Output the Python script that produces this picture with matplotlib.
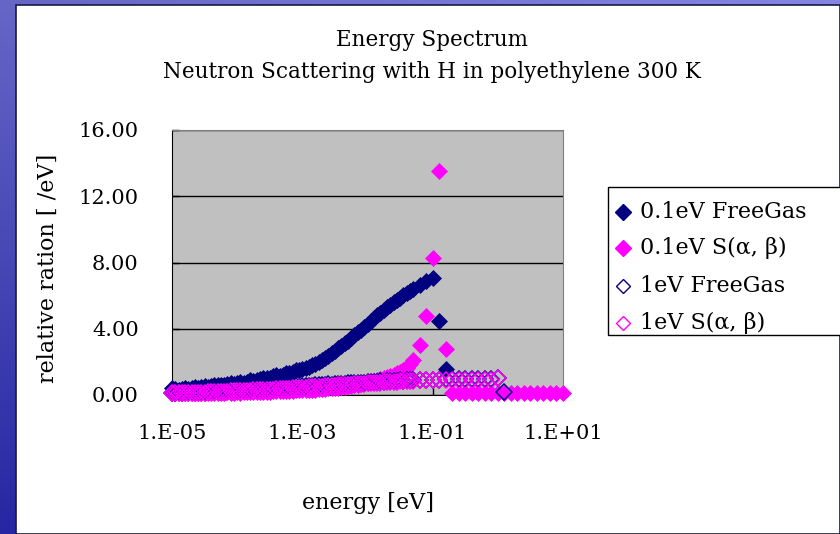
import numpy as np
import matplotlib
matplotlib.use("Agg")
import matplotlib.pyplot as plt
from matplotlib.lines import Line2D
from matplotlib.patches import Rectangle

# ---------------- data ----------------
# energies [eV]: 0.05-decade steps up to 5e-2, then 0.1-decade steps to 10 eV
energy = [
    1.00e-05, 1.12e-05, 1.26e-05, 1.41e-05, 1.58e-05, 1.78e-05, 2.00e-05, 2.24e-05, 2.51e-05, 2.82e-05,
    3.16e-05, 3.55e-05, 3.98e-05, 4.47e-05, 5.01e-05, 5.62e-05, 6.31e-05, 7.08e-05, 7.94e-05, 8.91e-05,
    1.00e-04, 1.12e-04, 1.26e-04, 1.41e-04, 1.58e-04, 1.78e-04, 2.00e-04, 2.24e-04, 2.51e-04, 2.82e-04,
    3.16e-04, 3.55e-04, 3.98e-04, 4.47e-04, 5.01e-04, 5.62e-04, 6.31e-04, 7.08e-04, 7.94e-04, 8.91e-04,
    1.00e-03, 1.12e-03, 1.26e-03, 1.41e-03, 1.58e-03, 1.78e-03, 2.00e-03, 2.24e-03, 2.51e-03, 2.82e-03,
    3.16e-03, 3.55e-03, 3.98e-03, 4.47e-03, 5.01e-03, 5.62e-03, 6.31e-03, 7.08e-03, 7.94e-03, 8.91e-03,
    1.00e-02, 1.12e-02, 1.26e-02, 1.41e-02, 1.58e-02, 1.78e-02, 2.00e-02, 2.24e-02, 2.51e-02, 2.82e-02,
    3.16e-02, 3.55e-02, 3.98e-02, 4.47e-02, 5.01e-02,
    6.31e-02, 7.94e-02, 1.00e-01, 1.26e-01, 1.58e-01, 2.00e-01, 2.51e-01, 3.16e-01, 3.98e-01, 5.01e-01,
    6.31e-01, 7.94e-01, 1.00e+00, 1.26e+00, 1.58e+00, 2.00e+00, 2.51e+00, 3.16e+00, 3.98e+00, 5.01e+00,
    6.31e+00, 7.94e+00, 1.00e+01,
]

free_gas_01 = [
    0.45, 0.38, 0.32, 0.35, 0.40, 0.38, 0.42, 0.48, 0.45, 0.50,
    0.55, 0.50, 0.52, 0.58, 0.62, 0.58, 0.60, 0.66, 0.70, 0.68,
    0.72, 0.78, 0.75, 0.80, 0.88, 0.85, 0.90, 0.98, 1.02, 1.00,
    1.05, 1.12, 1.18, 1.15, 1.22, 1.30, 1.35, 1.40, 1.48, 1.52,
    1.58, 1.65, 1.72, 1.82, 1.90, 2.00, 2.12, 2.25, 2.38, 2.52,
    2.68, 2.82, 2.98, 3.12, 3.28, 3.45, 3.62, 3.78, 3.95, 4.12,
    4.30, 4.48, 4.65, 4.82, 4.98, 5.15, 5.30, 5.45, 5.60, 5.75,
    5.88, 6.02, 6.15, 6.28, 6.40,
    6.65, 6.88, 7.05, 4.45, 1.55,
]

sab_01 = [
    0.15, 0.12, 0.15, 0.12, 0.15, 0.15, 0.12, 0.15, 0.15, 0.12,
    0.15, 0.15, 0.12, 0.15, 0.15, 0.15, 0.15, 0.18, 0.15, 0.15,
    0.18, 0.15, 0.18, 0.18, 0.18, 0.20, 0.18, 0.20, 0.20, 0.20,
    0.20, 0.22, 0.22, 0.22, 0.22, 0.25, 0.25, 0.25, 0.28, 0.28,
    0.28, 0.30, 0.30, 0.32, 0.32, 0.35, 0.35, 0.38, 0.40, 0.40,
    0.42, 0.45, 0.48, 0.50, 0.52, 0.55, 0.58, 0.62, 0.65, 0.70,
    0.75, 0.80, 0.85, 0.90, 0.95, 1.00, 1.08, 1.15, 1.22, 1.30,
    1.40, 1.50, 1.65, 1.85, 2.10,
    3.00, 4.80, 8.30, 13.50, 2.80, 0.10, 0.10, 0.10, 0.10, 0.10,
    0.10, 0.10, 0.10, 0.10, 0.10, 0.10, 0.10, 0.10, 0.10, 0.10,
    0.10, 0.10, 0.10,
]

free_gas_1 = [
    0.15, 0.15, 0.18, 0.15, 0.18, 0.20, 0.18, 0.20, 0.22, 0.20,
    0.22, 0.25, 0.22, 0.25, 0.28, 0.25, 0.28, 0.30, 0.28, 0.30,
    0.32, 0.30, 0.33, 0.35, 0.33, 0.36, 0.38, 0.36, 0.40, 0.42,
    0.40, 0.43, 0.45, 0.43, 0.46, 0.48, 0.46, 0.50, 0.52, 0.50,
    0.53, 0.55, 0.53, 0.56, 0.58, 0.60, 0.58, 0.62, 0.64, 0.62,
    0.65, 0.67, 0.65, 0.68, 0.70, 0.72, 0.70, 0.73, 0.75, 0.74,
    0.76, 0.78, 0.77, 0.80, 0.82, 0.80, 0.83, 0.85, 0.84, 0.86,
    0.88, 0.87, 0.89, 0.90, 0.90,
    0.92, 0.92, 0.93, 0.93, 0.94, 0.94, 0.95, 0.95, 0.95, 0.95,
    0.96, 0.96, 1.00, 0.20,
]

sab_1 = [
    0.10, 0.10, 0.12, 0.10, 0.12, 0.12, 0.14, 0.12, 0.14, 0.15,
    0.15, 0.17, 0.16, 0.18, 0.18, 0.20, 0.19, 0.21, 0.22, 0.22,
    0.24, 0.23, 0.25, 0.26, 0.26, 0.28, 0.28, 0.30, 0.30, 0.32,
    0.33, 0.33, 0.35, 0.36, 0.36, 0.38, 0.39, 0.40, 0.41, 0.42,
    0.44, 0.45, 0.46, 0.47, 0.48, 0.50, 0.51, 0.52, 0.54, 0.55,
    0.56, 0.58, 0.59, 0.60, 0.62, 0.63, 0.64, 0.66, 0.67, 0.68,
    0.70, 0.71, 0.72, 0.74, 0.75, 0.76, 0.78, 0.79, 0.80, 0.81,
    0.82, 0.83, 0.84, 0.85, 0.86,
    0.88, 0.88, 0.89, 0.90, 0.90, 0.91, 0.92, 0.92, 0.92, 0.93,
    0.93, 0.93, 1.00,
]

series_labels = ["0.1eV FreeGas", "0.1eV S(α, β)", "1eV FreeGas", "1eV S(α, β)"]
y_ticks = [0, 4, 8, 12, 16]
y_tick_labels = ["0.00", "4.00", "8.00", "12.00", "16.00"]
x_ticks = [1e-5, 1e-3, 1e-1, 1e1]
x_tick_labels = ["1.E-05", "1.E-03", "1.E-01", "1.E+01"]

# ---------------- style ----------------
FONT = "DejaVu Serif"
NAVY = "#000080"
MAGENTA = "#FF00FF"

W, H = 840, 534
fig = plt.figure(figsize=(W / 100, H / 100), dpi=100)

# slide-style background: blue gradient frame + white panel
bg = fig.add_axes([0, 0, 1, 1], zorder=-10)
grad_v = np.linspace(0, 1, 256)[:, None]
grad_h = np.linspace(0, 1, 256)[None, :]
top = np.array([0.40, 0.40, 0.78])
bot = np.array([0.15, 0.15, 0.64])
img = top[None, None, :] * (1 - grad_v[..., None]) + bot[None, None, :] * grad_v[..., None]
img = img + 0.12 * (grad_h[..., None] * (1 - grad_v[..., None]))
bg.imshow(np.clip(img, 0, 1), aspect="auto", extent=[0, 1, 0, 1], origin="upper")
bg.set_xlim(0, 1)
bg.set_ylim(0, 1)
bg.axis("off")
bg.add_patch(Rectangle((16 / W, 0), 1 - 16 / W, 1 - 5 / H, facecolor="white",
                       edgecolor="#1a1a40", linewidth=1.2))

# main axes
ax = fig.add_axes([172 / W, 139 / H, (563 - 172) / W, (395 - 130) / H])
ax.set_facecolor("#C0C0C0")
ax.set_xscale("log")
ax.set_xlim(1e-5, 1e1)
ax.set_ylim(0, 16)

ax.set_yticks(y_ticks)
ax.set_yticklabels(y_tick_labels)
ax.set_xticks(x_ticks)
ax.set_xticklabels(x_tick_labels)
ax.xaxis.set_minor_locator(matplotlib.ticker.NullLocator())
ax.tick_params(axis="both", direction="in", length=5, width=1, color="black",
               labelsize=15)
ax.tick_params(axis="x", pad=21)
ax.tick_params(axis="y", pad=24)
for lab in ax.get_xticklabels() + ax.get_yticklabels():
    lab.set_fontfamily(FONT)
ax.yaxis.grid(True, color="black", linewidth=1)
ax.set_axisbelow(True)
ax.spines["left"].set_color("black")
ax.spines["bottom"].set_color("black")
ax.spines["top"].set_color("#808080")
ax.spines["right"].set_color("#808080")

ms = 8.6
ax.plot(energy[:len(free_gas_01)], free_gas_01, linestyle="none", marker="D", ms=ms,
        mfc=NAVY, mec=NAVY, mew=0.5, clip_on=False, zorder=3)
ax.plot(energy[:len(sab_01)], sab_01, linestyle="none", marker="D", ms=ms,
        mfc=MAGENTA, mec=MAGENTA, mew=0.5, clip_on=False, zorder=4)
ax.plot(energy[:len(free_gas_1)], free_gas_1, linestyle="none", marker="D", ms=ms * 0.9,
        mfc="none", mec=NAVY, mew=1.1, clip_on=False, zorder=5)
ax.plot(energy[:len(sab_1)], sab_1, linestyle="none", marker="D", ms=ms * 0.9,
        mfc="none", mec=MAGENTA, mew=1.1, clip_on=False, zorder=6)

# titles / labels
fig.text(432 / W, 1 - 40 / H, "Energy Spectrum", ha="center", va="center",
         fontsize=15.5, family=FONT)
fig.text(432 / W, 1 - 72 / H, "Neutron Scattering with H in polyethylene 300 K",
         ha="center", va="center", fontsize=15.5, family=FONT)
fig.text(368 / W, 1 - 503 / H, "energy [eV]", ha="center", va="center",
         fontsize=16, family=FONT)
fig.text(48 / W, 1 - 268 / H, "relative ration [ /eV]", ha="center", va="center",
         rotation=90, fontsize=16, family=FONT)

# legend (manual box)
fig.add_artist(Rectangle((608 / W, 1 - 335 / H), (845 - 608) / W, (335 - 187) / H,
                         transform=fig.transFigure, facecolor="white",
                         edgecolor="black", linewidth=1.0, clip_on=False))
rows = [212, 248, 286, 323]
styles = [(NAVY, NAVY), (MAGENTA, MAGENTA), ("none", NAVY), ("none", MAGENTA)]
for r, (fc, ec), lab in zip(rows, styles, series_labels):
    yf = 1 - r / H
    fig.add_artist(Line2D([623 / W], [yf], transform=fig.transFigure, marker="D",
                          ms=8.0 if fc != "none" else 7.4, mfc=fc, mec=ec,
                          mew=1.0, linestyle="none"))
    fig.text(640 / W, yf, lab, ha="left", va="center", fontsize=16, family=FONT)

fig.savefig("out.png", dpi=100)
